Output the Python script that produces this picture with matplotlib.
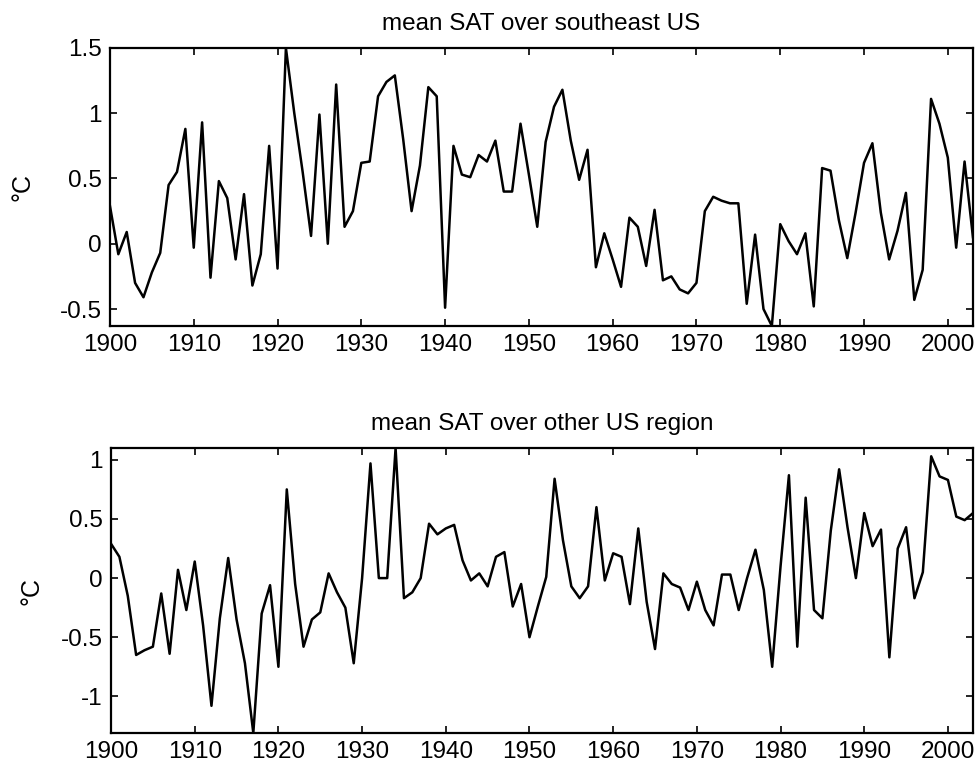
import matplotlib
matplotlib.use("Agg")
import matplotlib.pyplot as plt
import numpy as np
from matplotlib.ticker import FixedLocator, FuncFormatter

plt.rcParams['font.family'] = ['Liberation Sans', 'DejaVu Sans']
plt.rcParams['axes.unicode_minus'] = False

years = list(range(1900, 2004))

# mean SAT over southeast US (deg C)
sat_southeast = [
    0.29, -0.08, 0.09, -0.30, -0.41, -0.22, -0.07, 0.45, 0.55, 0.88,   # 1900-1909
    -0.03, 0.93, -0.26, 0.48, 0.35, -0.12, 0.38, -0.32, -0.08, 0.75,   # 1910-1919
    -0.19, 1.50, 1.00, 0.55, 0.06, 0.99, 0.00, 1.22, 0.13, 0.25,      # 1920-1929
    0.62, 0.63, 1.13, 1.24, 1.29, 0.80, 0.25, 0.60, 1.20, 1.13,       # 1930-1939
    -0.49, 0.75, 0.53, 0.51, 0.68, 0.63, 0.79, 0.40, 0.40, 0.92,      # 1940-1949
    0.53, 0.13, 0.78, 1.05, 1.18, 0.79, 0.49, 0.72, -0.18, 0.08,      # 1950-1959
    -0.12, -0.33, 0.20, 0.13, -0.17, 0.26, -0.28, -0.25, -0.35, -0.38, # 1960-1969
    -0.30, 0.25, 0.36, 0.33, 0.31, 0.31, -0.46, 0.07, -0.50, -0.63,   # 1970-1979
    0.15, 0.02, -0.08, 0.08, -0.48, 0.58, 0.56, 0.18, -0.11, 0.24,    # 1980-1989
    0.62, 0.77, 0.24, -0.12, 0.10, 0.39, -0.43, -0.20, 1.11, 0.92,    # 1990-1999
    0.66, -0.03, 0.63, 0.05,                                          # 2000-2003
]

# mean SAT over other US region (deg C)
sat_other = [
    0.29, 0.18, -0.15, -0.65, -0.61, -0.58, -0.13, -0.64, 0.07, -0.27,  # 1900-1909
    0.14, -0.40, -1.08, -0.34, 0.17, -0.35, -0.72, -1.31, -0.30, -0.06, # 1910-1919
    -0.75, 0.75, -0.05, -0.58, -0.35, -0.29, 0.04, -0.12, -0.25, -0.72, # 1920-1929
    0.00, 0.97, 0.00, 0.00, 1.10, -0.17, -0.12, 0.00, 0.46, 0.37,      # 1930-1939
    0.42, 0.45, 0.15, -0.02, 0.04, -0.07, 0.18, 0.22, -0.24, -0.05,    # 1940-1949
    -0.50, -0.24, 0.01, 0.84, 0.32, -0.07, -0.17, -0.07, 0.60, -0.02,  # 1950-1959
    0.21, 0.18, -0.22, 0.42, -0.20, -0.60, 0.04, -0.05, -0.08, -0.27,  # 1960-1969
    -0.03, -0.27, -0.40, 0.03, 0.03, -0.27, 0.00, 0.24, -0.10, -0.75,  # 1970-1979
    0.10, 0.87, -0.58, 0.68, -0.27, -0.34, 0.40, 0.92, 0.43, 0.00,     # 1980-1989
    0.55, 0.27, 0.41, -0.67, 0.25, 0.43, -0.17, 0.05, 1.03, 0.86,      # 1990-1999
    0.83, 0.52, 0.49, 0.55,                                            # 2000-2003
]

titles = ["mean SAT over southeast US", "mean SAT over other US region"]
ylabel = "°C"
xticks = list(range(1900, 2001, 10))
yticks_top = [-0.5, 0, 0.5, 1, 1.5]
yticks_bottom = [-1, -0.5, 0, 0.5, 1]

fig = plt.figure(figsize=(9.8, 7.69), dpi=100)
ax1 = fig.add_axes([0.1122, 0.5761, 0.8806, 0.3615])
ax2 = fig.add_axes([0.1133, 0.0468, 0.8796, 0.3706])

fmt = FuncFormatter(lambda v, p: ('%g' % v))

for ax, data, title, yt, lc in [
    (ax1, sat_southeast, titles[0], yticks_top, -0.088),
    (ax2, sat_other, titles[1], yticks_bottom, -0.078),
]:
    ax.plot(years, data, color='black', linewidth=1.8)
    ax.set_xlim(1900, 2003)
    ax.set_ylim(min(data), max(data))
    ax.xaxis.set_major_locator(FixedLocator(xticks))
    ax.yaxis.set_major_locator(FixedLocator(yt))
    ax.yaxis.set_major_formatter(fmt)
    ax.tick_params(direction='in', length=5, width=1.2, top=True, right=True,
                   labelsize=17.5, pad=6)
    for s in ax.spines.values():
        s.set_linewidth(1.6)
    ax.set_title(title, fontsize=17.5, pad=13)
    ax.set_ylabel(ylabel, fontsize=18)
    ax.yaxis.set_label_coords(lc, 0.5)

fig.savefig("out.png", dpi=100)
